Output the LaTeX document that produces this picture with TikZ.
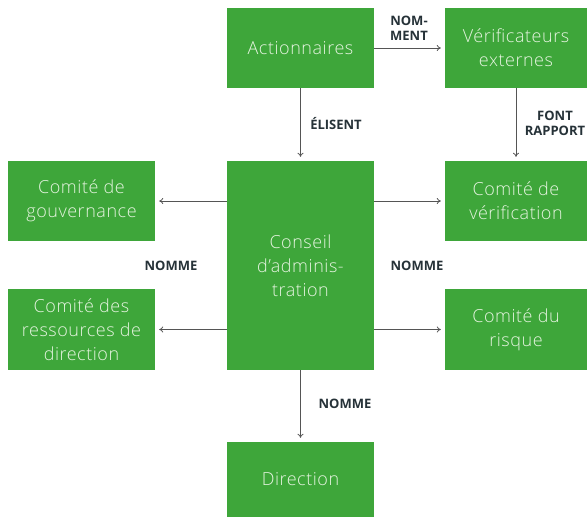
\documentclass[tikz,border=0pt]{standalone}
\usepackage{fontspec}
\setmainfont{Open Sans}
\newfontfamily\boxfont{Open Sans Light}[LetterSpace=3]
\usetikzlibrary{arrows.meta}
\definecolor{boxgreen}{HTML}{3EA63A}
\definecolor{boxtext}{HTML}{E6F4E0}
\definecolor{linegray}{HTML}{555555}
\definecolor{labeltext}{HTML}{263238}
\tikzset{>={To[length=4pt,width=6pt]}}
\tikzset{
  box/.style={fill=boxgreen, text=boxtext, inner sep=0pt, align=center,
    font=\boxfont\fontsize{18}{24}\selectfont},
  link/.style={draw=linegray, line width=0.8pt, ->},
  tag/.style={text=labeltext, align=center, inner sep=0pt,
    font=\bfseries\fontsize{13}{15}\selectfont}
}

\begin{document}
\begin{tikzpicture}[x=1pt,y=-1pt]
  \useasboundingbox (0,0) rectangle (587,517);
     \node[box,minimum width=147pt,minimum height=80pt] at (300.5, 48)   (act) {Actionnaires};
     \node[box,minimum width=142pt,minimum height=80pt] at (516, 48)   (ver) {Vérificateurs\\externes};
     \node[box,minimum width=147pt,minimum height=80pt] at (81.5, 201)   (gou) {Comité de\\gouvernance};
     \node[box,minimum width=147pt,minimum height=209pt] at (300.5, 265.5)   (ca) {Conseil\\d’adminis-\\tration};
     \node[box,minimum width=142pt,minimum height=80pt] at (516, 201)   (cv) {Comité de\\vérification};
     \node[box,minimum width=147pt,minimum height=81pt] at (81.5, 329.5)   (rh) {Comité des\\ressources de\\direction};
     \node[box,minimum width=142pt,minimum height=81pt] at (516, 329.5)   (ri) {Comité du\\risque};
     \node[box,minimum width=147pt,minimum height=75pt] at (300.5, 479.5)   (dir) {Direction};
     \node[tag] at (409, 28)   (t1) {NOM-\\MENT};
     \node[tag] at (336, 124)   (t2) {ÉLISENT};
     \node[tag] at (555, 123)   (t3) {FONT\\RAPPORT};
     \node[tag] at (171, 266)   (t4) {NOMME};
     \node[tag] at (417, 266)   (t5) {NOMME};
     \node[tag] at (345, 404)   (t6) {NOMME};
     \draw[link,shorten >=4pt] (act.east) -- (ver.west);
     \draw[link,shorten >=4pt] (act.south) -- (ca.north);
     \draw[link,shorten >=4pt] (ver.south) -- (cv.north);
     \draw[link,shorten >=4pt] (ca.west |- gou.east) -- (gou.east);
     \draw[link,shorten >=4pt] (ca.west |- rh.east) -- (rh.east);
     \draw[link,shorten >=4pt] (ca.east |- cv.west) -- (cv.west);
     \draw[link,shorten >=4pt] (ca.east |- ri.west) -- (ri.west);
     \draw[link,shorten >=4pt] (ca.south) -- (dir.north);
     \end{tikzpicture}
\end{document}
